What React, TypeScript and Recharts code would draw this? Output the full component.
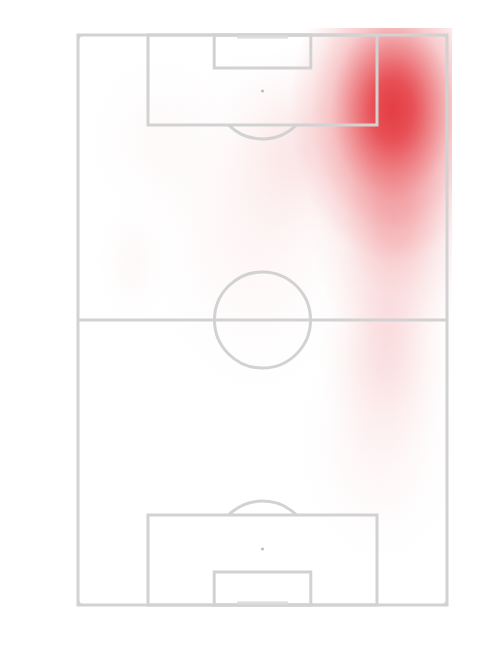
import { ScatterChart, Scatter, XAxis, YAxis, ReferenceArea, ReferenceLine, ReferenceDot } from 'recharts';

// pitch in metres: x across (0..68), y along from the top goal line (0..105)
const PITCH_W = 68;
const PITCH_L = 105;

// heat blobs (centre, spread, weight)
const heatX = [57.9, 58.2, 58.4, 56.8, 55.6, 33, 40.9, 10.1, 15.1];
const heatY = [13.8, 13.2, 34, 57.1, 74.6, 34.1, 21.2, 41.8, 19.3];
const heatRx = [19, 11, 16, 13, 16, 22, 16, 7.5, 15];
const heatRy = [28, 16, 24, 22, 24, 34, 20, 13, 18];
const heatW = [0.9, 0.45, 0.3, 0.15, 0.05, 0.05, 0.1, 0.03, 0.025];

// markings (metres)
const boxX = [12.9, 55.1];
const boxDepth = 16.6;
const sixX = [25.1, 42.9];
const sixDepth = 6.1;
const spotDist = 10.3;
const circleR = 8.85;
const goalX = [29.3, 38.7];
const cornerR = 1;

const CHART_W = 484;
const CHART_H = 634;
const M = { top: 27, right: 45, bottom: 37, left: 70 };
const k = (CHART_W - M.left - M.right) / PITCH_W;

const LINE = '#d2d2d2';
const HEAT = '#e3333a';

const heatData = heatX.map((x, i) => ({ x, y: heatY[i], rx: heatRx[i], ry: heatRy[i], w: heatW[i] }));

const HeatBlob = (props: any) => {
  const { cx, cy, payload } = props;
  return (
    <ellipse
      cx={cx}
      cy={cy}
      rx={payload.rx * k}
      ry={payload.ry * k}
      fill="url(#heatGrad)"
      opacity={payload.w}
      clipPath="url(#heatClip)"
    />
  );
};

const arcShape = (dir: number) => (p: any) => {
  const dy = boxDepth - spotDist;
  const dx = Math.sqrt(circleR * circleR - dy * dy);
  const y = p.cy + dir * dy * k;
  const r = circleR * k;
  return (
    <path
      d={`M ${p.cx - dx * k} ${y} A ${r} ${r} 0 0 ${dir > 0 ? 0 : 1} ${p.cx + dx * k} ${y}`}
      fill="none"
      stroke={LINE}
      strokeWidth={3}
    />
  );
};

const cornerShape = (sx: number, sy: number) => (p: any) => {
  const r = cornerR * k;
  return (
    <path
      d={`M ${p.cx + sx * r} ${p.cy} A ${r} ${r} 0 0 ${sx * sy > 0 ? 0 : 1} ${p.cx} ${p.cy + sy * r}`}
      fill="none"
      stroke={LINE}
      strokeWidth={2}
    />
  );
};

const lineProps = { fill: 'none', fillOpacity: 0, stroke: LINE, strokeWidth: 3, strokeOpacity: 1, ifOverflow: 'visible' as const };

export default function App() {
  return (
    <ScatterChart width={CHART_W} height={CHART_H} margin={M}>
      <defs>
        <radialGradient id="heatGrad" cx="50%" cy="50%" r="50%">
          <stop offset="0%" stopColor={HEAT} stopOpacity={1} />
          <stop offset="20%" stopColor={HEAT} stopOpacity={0.87} />
          <stop offset="40%" stopColor={HEAT} stopOpacity={0.57} />
          <stop offset="60%" stopColor={HEAT} stopOpacity={0.28} />
          <stop offset="80%" stopColor={HEAT} stopOpacity={0.1} />
          <stop offset="100%" stopColor={HEAT} stopOpacity={0} />
        </radialGradient>
        <clipPath id="heatClip">
          <rect x={M.left - 5} y={M.top - 7} width={PITCH_W * k + 10} height={PITCH_L * k + 12} />
        </clipPath>
      </defs>
      <XAxis type="number" dataKey="x" domain={[0, PITCH_W]} hide />
      <YAxis type="number" dataKey="y" domain={[0, PITCH_L]} reversed hide />
      <Scatter data={heatData} shape={HeatBlob} isAnimationActive={false} />

      <ReferenceArea x1={0} x2={PITCH_W} y1={0} y2={PITCH_L} {...lineProps} zIndex={700} />
      <ReferenceLine y={PITCH_L / 2} stroke={LINE} strokeWidth={3} zIndex={700} />
      <ReferenceArea x1={boxX[0]} x2={boxX[1]} y1={0} y2={boxDepth} {...lineProps} zIndex={700} />
      <ReferenceArea x1={boxX[0]} x2={boxX[1]} y1={PITCH_L - boxDepth} y2={PITCH_L} {...lineProps} zIndex={700} />
      <ReferenceArea x1={sixX[0]} x2={sixX[1]} y1={0} y2={sixDepth} {...lineProps} zIndex={700} />
      <ReferenceArea x1={sixX[0]} x2={sixX[1]} y1={PITCH_L - sixDepth} y2={PITCH_L} {...lineProps} zIndex={700} />
      <ReferenceLine segment={[{ x: goalX[0], y: 0.35 }, { x: goalX[1], y: 0.35 }]} stroke="#dcdcdc" strokeWidth={3} zIndex={700} />
      <ReferenceLine segment={[{ x: goalX[0], y: PITCH_L - 0.35 }, { x: goalX[1], y: PITCH_L - 0.35 }]} stroke="#dcdcdc" strokeWidth={3} zIndex={700} />
      <ReferenceDot x={PITCH_W / 2} y={PITCH_L / 2} r={circleR * k} fill="none" stroke={LINE} strokeWidth={3} zIndex={700} />
      <ReferenceDot x={PITCH_W / 2} y={spotDist} r={1.5} fill="#bbbbbb" stroke="none" zIndex={700} />
      <ReferenceDot x={PITCH_W / 2} y={PITCH_L - spotDist} r={1.5} fill="#bbbbbb" stroke="none" zIndex={700} />
      <ReferenceDot x={PITCH_W / 2} y={spotDist} shape={arcShape(1)} zIndex={700} />
      <ReferenceDot x={PITCH_W / 2} y={PITCH_L - spotDist} shape={arcShape(-1)} zIndex={700} />
      <ReferenceDot x={0} y={0} shape={cornerShape(1, 1)} zIndex={700} />
      <ReferenceDot x={PITCH_W} y={0} shape={cornerShape(-1, 1)} zIndex={700} />
      <ReferenceDot x={0} y={PITCH_L} shape={cornerShape(1, -1)} zIndex={700} />
      <ReferenceDot x={PITCH_W} y={PITCH_L} shape={cornerShape(-1, -1)} zIndex={700} />
    </ScatterChart>
  );
}
